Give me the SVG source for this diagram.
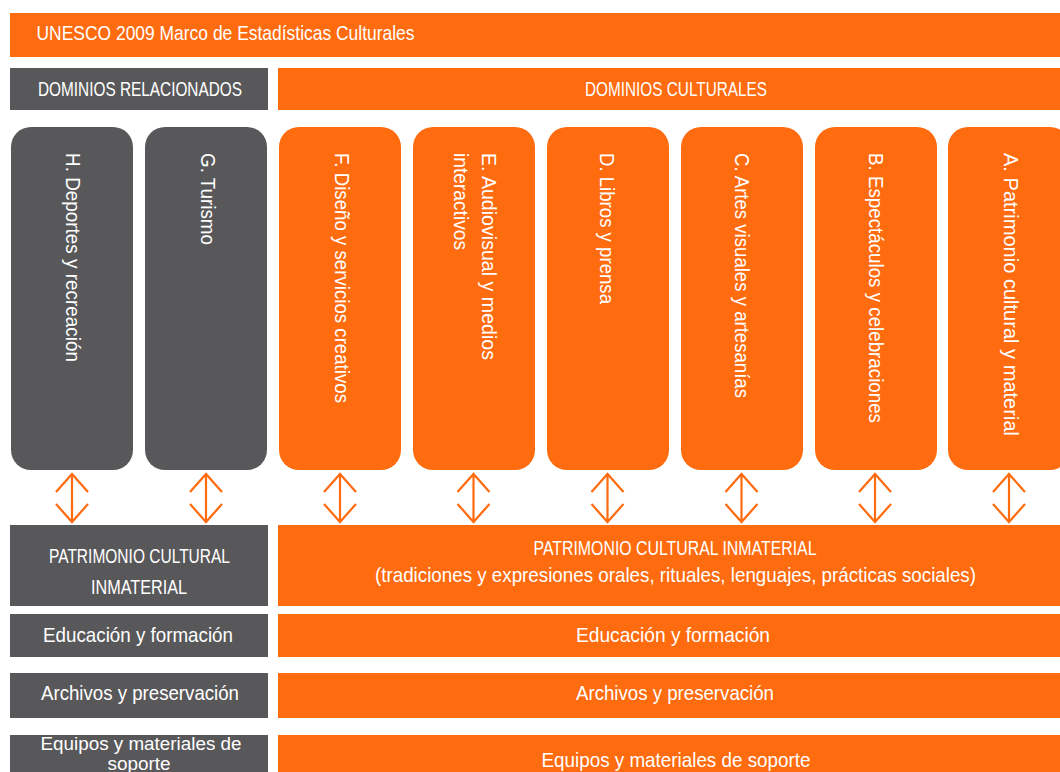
<svg xmlns="http://www.w3.org/2000/svg" width="1060" height="772" viewBox="0 0 1060 772">
<style>
.o{fill:#FF6B0F}
.g{fill:#58585A}
.t{fill:#FFFFFF;font-family:"Liberation Sans",Arial,sans-serif;font-size:21px}
.s{font-size:17.5px}
.c{text-anchor:middle}
.arr{fill:none;stroke:#FF6B0F;stroke-width:2.2;stroke-linejoin:miter}
</style>
<defs>
<path id="dbl" d="M0,474 V522 M-16,492 L0,474 L16,492 M-16,504 L0,522 L16,504"/>
</defs>
<rect width="1060" height="772" fill="#FFFFFF"/>
<g id="header">
<rect class="o" x="10" y="13" width="1060" height="44"/>
<text class="t" x="36.5" y="40" textLength="378" lengthAdjust="spacingAndGlyphs">UNESCO 2009 Marco de Estadísticas Culturales</text>
</g>
<g id="dominios-relacionados">
<rect class="g" x="10" y="68" width="258" height="42"/>
<text class="t" x="38" y="96" textLength="204" lengthAdjust="spacingAndGlyphs">DOMINIOS RELACIONADOS</text>
</g>
<g id="dominios-culturales">
<rect class="o" x="278" y="68" width="800" height="42"/>
<text class="t" x="585" y="96" textLength="182" lengthAdjust="spacingAndGlyphs">DOMINIOS CULTURALES</text>
</g>
<g id="col-H">
<rect class="g" x="11" y="127" width="122" height="343" rx="20"/>
<text class="t" transform="translate(66,153) rotate(90)" textLength="209" lengthAdjust="spacingAndGlyphs">H. Deportes y recreación</text>
</g>
<g id="col-G">
<rect class="g" x="145" y="127" width="122" height="343" rx="20"/>
<text class="t" transform="translate(200.5,153) rotate(90)" textLength="92" lengthAdjust="spacingAndGlyphs">G. Turismo</text>
</g>
<g id="col-F">
<rect class="o" x="279" y="127" width="122" height="343" rx="20"/>
<text class="t" transform="translate(335,153) rotate(90)" textLength="250" lengthAdjust="spacingAndGlyphs">F. Diseño y servicios creativos</text>
</g>
<g id="col-E">
<rect class="o" x="413" y="127" width="122" height="343" rx="20"/>
<text class="t" transform="translate(481.5,153) rotate(90)" textLength="207" lengthAdjust="spacingAndGlyphs">E. Audiovisual y medios</text>
<text class="t" transform="translate(454,153) rotate(90)" textLength="97" lengthAdjust="spacingAndGlyphs">interactivos</text>
</g>
<g id="col-D">
<rect class="o" x="547" y="127" width="122" height="343" rx="20"/>
<text class="t" transform="translate(600,153) rotate(90)" textLength="151" lengthAdjust="spacingAndGlyphs">D. Libros y prensa</text>
</g>
<g id="col-C">
<rect class="o" x="681" y="127" width="122" height="343" rx="20"/>
<text class="t" transform="translate(735,153) rotate(90)" textLength="245" lengthAdjust="spacingAndGlyphs">C. Artes visuales y artesanías</text>
</g>
<g id="col-B">
<rect class="o" x="815" y="127" width="122" height="343" rx="20"/>
<text class="t" transform="translate(869,153) rotate(90)" textLength="270" lengthAdjust="spacingAndGlyphs">B. Espectáculos y celebraciones</text>
</g>
<g id="col-A">
<rect class="o" x="948" y="127" width="122" height="343" rx="20"/>
<text class="t" transform="translate(1003.5,153) rotate(90)" textLength="283" lengthAdjust="spacingAndGlyphs">A. Patrimonio cultural y material</text>
</g>
<g id="connectors">
<use href="#dbl" class="arr" x="72"/>
<use href="#dbl" class="arr" x="206"/>
<use href="#dbl" class="arr" x="340"/>
<use href="#dbl" class="arr" x="473.5"/>
<use href="#dbl" class="arr" x="607.5"/>
<use href="#dbl" class="arr" x="741.5"/>
<use href="#dbl" class="arr" x="875"/>
<use href="#dbl" class="arr" x="1009"/>
</g>
<g id="pci-left">
<rect class="g" x="10" y="525" width="258" height="81"/>
<text class="t c" x="139.5" y="563" textLength="181" lengthAdjust="spacingAndGlyphs">PATRIMONIO CULTURAL</text>
<text class="t c" x="139" y="594" textLength="96" lengthAdjust="spacingAndGlyphs">INMATERIAL</text>
</g>
<g id="pci-right">
<rect class="o" x="278" y="525" width="800" height="81"/>
<text class="t c" x="675" y="555" textLength="283" lengthAdjust="spacingAndGlyphs">PATRIMONIO CULTURAL INMATERIAL</text>
<text class="t c" x="675.5" y="582" textLength="601" lengthAdjust="spacingAndGlyphs">(tradiciones y expresiones orales, rituales, lenguajes, prácticas sociales)</text>
</g>
<g id="edu-left">
<rect class="g" x="10" y="614" width="258" height="43"/>
<text class="t c" x="138" y="642" textLength="190" lengthAdjust="spacingAndGlyphs">Educación y formación</text>
</g>
<g id="edu-right">
<rect class="o" x="278" y="614" width="800" height="43"/>
<text class="t c" x="673" y="642" textLength="194" lengthAdjust="spacingAndGlyphs">Educación y formación</text>
</g>
<g id="arch-left">
<rect class="g" x="10" y="673" width="258" height="45"/>
<text class="t c" x="140" y="700" textLength="198" lengthAdjust="spacingAndGlyphs">Archivos y preservación</text>
</g>
<g id="arch-right">
<rect class="o" x="278" y="673" width="800" height="45"/>
<text class="t c" x="675" y="700" textLength="198" lengthAdjust="spacingAndGlyphs">Archivos y preservación</text>
</g>
<g id="equip-left">
<rect class="g" x="10" y="735" width="258" height="50"/>
<text class="t s c" x="141" y="750" textLength="201" lengthAdjust="spacingAndGlyphs">Equipos y materiales de</text>
<text class="t s c" x="139" y="770" textLength="63" lengthAdjust="spacingAndGlyphs">soporte</text>
</g>
<g id="equip-right">
<rect class="o" x="278" y="735" width="800" height="50"/>
<text class="t c" x="676" y="767" textLength="269" lengthAdjust="spacingAndGlyphs">Equipos y materiales de soporte</text>
</g>
</svg>
